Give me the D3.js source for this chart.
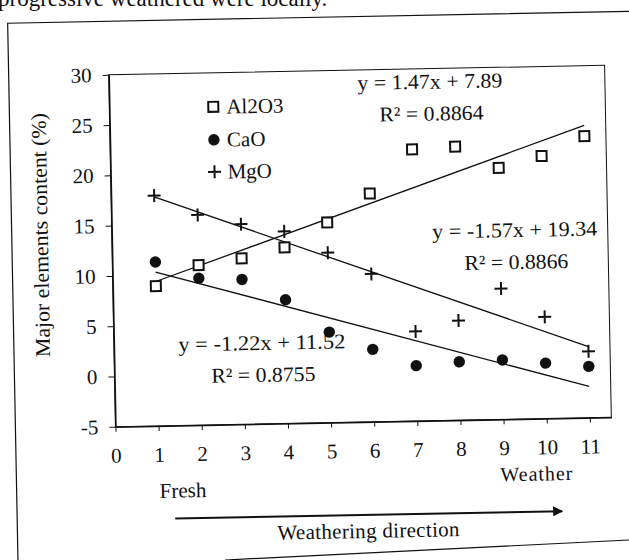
<!DOCTYPE html>
<html>
<head>
<meta charset="utf-8">
<script src="https://cdnjs.cloudflare.com/ajax/libs/d3/7.8.5/d3.min.js"></script>
<style>
  body { margin: 0; background: #fff; }
  svg { display: block; font-family: "Liberation Serif", "Times New Roman", serif; }
  .axis path, .axis line { stroke: #111; }
  .axis text { font-size: 21px; fill: #111; font-family: "Liberation Serif", serif; }
</style>
</head>
<body>
<div id="chart"></div>
<script>
// data
var steps = [1, 2, 3, 4, 5, 6, 7, 8, 9, 10, 11];
var al2o3 = [8.9, 10.9, 11.5, 12.5, 14.9, 17.7, 22.0, 22.2, 20.0, 21.1, 23.0];
var cao = [11.3, 9.6, 9.4, 7.3, 4.0, 2.2, 0.5, 0.8, 0.9, 0.5, 0.1];
var mgo = [17.9, 15.9, 14.9, 14.1, 11.9, 9.7, 3.9, 4.9, 8.0, 5.1, 1.6];
var seriesNames = ["Al2O3", "CaO", "MgO"];
var trendSlopes = [1.47, -1.22, -1.57];
var trendIntercepts = [7.89, 11.52, 19.34];
var trendR2 = ["0.8864", "0.8755", "0.8866"];
var xTicks = [0, 1, 2, 3, 4, 5, 6, 7, 8, 9, 10, 11];
var yTicks = [-5, 0, 5, 10, 15, 20, 25, 30];

var svgWidth = 629;
var svgHeight = 560;

var margin = { top: 70, right: 21, bottom: 138, left: 112 };
var width = svgWidth - margin.left - margin.right;
var height = svgHeight - margin.top - margin.bottom;

var ink = "#111";

var svg = d3.select("#chart")
  .append("svg")
  .attr("width", svgWidth)
  .attr("height", svgHeight);

// page text cut off at the top of the scan
svg.append("text")
  .attr("x", -2)
  .attr("y", 6)
  .attr("font-size", 23)
  .attr("fill", ink)
  .text("progressive weathered were locally.");

// bottom edge of the outer frame
svg.append("line")
  .attr("x1", 225).attr("y1", 560)
  .attr("x2", 629).attr("y2", 540)
  .attr("stroke", ink)
  .attr("stroke-width", 1.2);

// the scan is slightly tilted
var page = svg.append("g")
  .attr("transform", "rotate(-1.1, 360, 246)");

// outer frame (top and left)
page.append("path")
  .attr("d", "M640,16.5H12V620")
  .attr("fill", "none")
  .attr("stroke", ink)
  .attr("stroke-width", 1.2);

var chartGroup = page.append("g")
  .attr("transform", `translate(${margin.left}, ${margin.top})`);

var xScale = d3.scaleLinear().domain([0, 11.5]).range([0, width]);
var yScale = d3.scaleLinear().domain([-5, 30]).range([height, 0]);

// plot area border
chartGroup.append("rect")
  .attr("width", width)
  .attr("height", height)
  .attr("fill", "none")
  .attr("stroke", ink)
  .attr("stroke-width", 1);

// axes (plain hyphen for negatives, as in the scan)
chartGroup.append("g")
  .attr("class", "axis")
  .attr("transform", `translate(0, ${height})`)
  .call(d3.axisBottom(xScale)
    .tickValues(xTicks)
    .tickFormat(d => String(d))
    .tickSize(5)
    .tickSizeOuter(0)
    .tickPadding(16))
  .call(g => g.select(".domain").attr("stroke-width", 1.6));

chartGroup.append("g")
  .attr("class", "axis")
  .call(d3.axisLeft(yScale)
    .tickValues(yTicks)
    .tickFormat(d => String(d))
    .tickSize(6)
    .tickSizeOuter(0)
    .tickPadding(11))
  .call(g => g.select(".domain").attr("stroke-width", 1.6));

// trend lines from x = 1 to x = 11
var line = d3.line()
  .x(d => xScale(d[0]))
  .y(d => yScale(d[1]));

trendSlopes.forEach(function(m, i) {
  var ends = [steps[0], steps[steps.length - 1]].map(x => [x, m * x + trendIntercepts[i]]);
  chartGroup.append("path")
    .attr("d", line(ends))
    .attr("fill", "none")
    .attr("stroke", ink)
    .attr("stroke-width", 1.3);
});

// marker drawers
function drawSquare(g) {
  g.append("rect")
    .attr("x", -5).attr("y", -5)
    .attr("width", 10).attr("height", 10)
    .attr("fill", "#fff")
    .attr("stroke", ink)
    .attr("stroke-width", 2);
}
function drawDot(g) {
  g.append("circle")
    .attr("r", 5.7)
    .attr("fill", ink);
}
function drawPlus(g) {
  g.append("path")
    .attr("d", "M-6.5,0H6.5M0,-6.5V6.5")
    .attr("stroke", ink)
    .attr("stroke-width", 2);
}
var drawers = [drawSquare, drawDot, drawPlus];
var seriesValues = [al2o3, cao, mgo];

seriesValues.forEach(function(vals, i) {
  chartGroup.append("g").selectAll("g")
    .data(steps)
    .enter()
    .append("g")
    .attr("transform", (d, j) => `translate(${xScale(d)}, ${yScale(vals[j])})`)
    .each(function() { drawers[i](d3.select(this)); });
});

// legend
var legendRows = [34, 67, 99];
seriesNames.forEach(function(name, i) {
  var row = chartGroup.append("g")
    .attr("transform", `translate(104, ${legendRows[i]})`);
  drawers[i](row);
  row.append("text")
    .attr("x", 13)
    .attr("y", 7)
    .attr("font-size", 21)
    .attr("fill", ink)
    .text(name);
});

// equations
function fmtEq(i) {
  var m = trendSlopes[i].toFixed(2);
  return `y = ${m}x + ${trendIntercepts[i].toFixed(2)}`;
}
var eqPos = [[321, 20, 145], [148, 278, 167], [403, 170, 165]];
eqPos.forEach(function(p, i) {
  chartGroup.append("text")
    .attr("x", p[0])
    .attr("y", p[1])
    .attr("text-anchor", "middle")
    .attr("font-size", 21)
    .attr("fill", ink)
    .attr("textLength", p[2])
    .attr("lengthAdjust", "spacingAndGlyphs")
    .text(fmtEq(i));
  chartGroup.append("text")
    .attr("x", p[0] + 1)
    .attr("y", p[1] + 32)
    .attr("text-anchor", "middle")
    .attr("font-size", 21)
    .attr("fill", ink)
    .attr("textLength", 104)
    .attr("lengthAdjust", "spacingAndGlyphs")
    .text("R\u00b2 = " + trendR2[i]);
});

// y axis title
chartGroup.append("text")
  .attr("transform", "translate(-64, 159) rotate(-90)")
  .attr("text-anchor", "middle")
  .attr("font-size", 21)
  .attr("fill", ink)
  .attr("textLength", 244)
  .attr("lengthAdjust", "spacingAndGlyphs")
  .text("Major elements content (%)");

// weathering annotations under the x axis
chartGroup.append("text")
  .attr("x", 43)
  .attr("y", 424)
  .attr("font-size", 21)
  .attr("fill", ink)
  .text("Fresh");

chartGroup.append("text")
  .attr("x", 384)
  .attr("y", 414)
  .attr("font-size", 20)
  .attr("fill", ink)
  .attr("textLength", 72)
  .attr("lengthAdjust", "spacing")
  .text("Weather");

svg.append("defs").append("marker")
  .attr("id", "head")
  .attr("viewBox", "0 0 10 10")
  .attr("refX", 9)
  .attr("refY", 5)
  .attr("markerWidth", 6)
  .attr("markerHeight", 5)
  .attr("orient", "auto")
  .append("path")
  .attr("d", "M0,0L10,5L0,10Z")
  .attr("fill", ink);

chartGroup.append("line")
  .attr("x1", 58).attr("y1", 445)
  .attr("x2", 445).attr("y2", 445)
  .attr("stroke", ink)
  .attr("stroke-width", 2)
  .attr("marker-end", "url(#head)");

chartGroup.append("text")
  .attr("x", 251)
  .attr("y", 468)
  .attr("text-anchor", "middle")
  .attr("font-size", 21)
  .attr("fill", ink)
  .attr("textLength", 182)
  .attr("lengthAdjust", "spacing")
  .text("Weathering direction");
</script>
</body>
</html>
